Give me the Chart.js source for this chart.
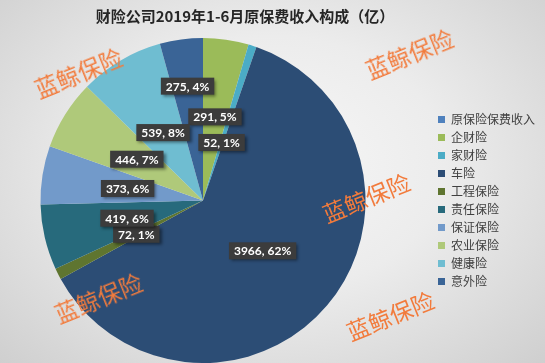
<!DOCTYPE html>
<html>
<head>
<meta charset="utf-8">
<script src="https://cdn.jsdelivr.net/npm/chart.js@4"></script>
<style>
  html, body { margin: 0; padding: 0; }
  body {
    width: 545px; height: 363px; overflow: hidden; position: relative;
    background: radial-gradient(ellipse at 50% 45%, #f7f7f7 0%, #ececec 45%, #cfcfcf 100%);
  }
  /* canvas pushed a bit left so the pie sits where Excel put it */
  #wrap { position: absolute; left: -26px; top: 0; width: 571px; height: 363px; }
  .wm {
    position: absolute; color: #f27b3c; font-family: "Noto Sans CJK SC", sans-serif;
    font-size: 23px; white-space: nowrap; transform: rotate(-22deg); transform-origin: center;
    pointer-events: none;
  }
</style>
</head>
<body>
<div id="wrap"><canvas id="pieChart"></canvas></div>
<div class="wm" style="left:32px;top:55px;">蓝鲸保险</div>
<div class="wm" style="left:363px;top:36px;">蓝鲸保险</div>
<div class="wm" style="left:320px;top:180px;">蓝鲸保险</div>
<div class="wm" style="left:52px;top:280px;">蓝鲸保险</div>
<div class="wm" style="left:344px;top:298px;">蓝鲸保险</div>
<script>
var titleText = '财险公司2019年1-6月原保费收入构成（亿）';
var categories = ['原保险保费收入', '企财险', '家财险', '车险', '工程保险', '责任保险', '保证保险', '农业保险', '健康险', '意外险'];
var premiums = [0, 291, 52, 3966, 72, 419, 373, 446, 539, 275];
var percents = [null, 5, 1, 62, 1, 6, 6, 7, 8, 4];
var sliceColors = ['#4F81BD', '#9BBB59', '#4BACC6', '#2C4D75', '#5F7530', '#276A7C', '#729ACA', '#AFC97A', '#6FBDD1', '#3A6496'];

// label distance from centre, as a fraction of the radius
var labelRadius = [0.48, 0.52, 0.375, 0.48, 0.46, 0.48, 0.47, 0.48, 0.485, 0.71];

var titlePlugin = {
    id: 'titlePlugin',
    afterDraw: function (chart) {
        var c = chart.ctx;
        c.save();
        c.font = 'bold 15px "Noto Sans CJK SC", sans-serif';
        c.fillStyle = '#262626';
        c.textAlign = 'center';
        c.textBaseline = 'middle';
        c.fillText(titleText, 271, 16);
        c.restore();
    }
};

var boxLabels = {
    id: 'boxLabels',
    afterDatasetsDraw: function (chart) {
        var c = chart.ctx;
        var meta = chart.getDatasetMeta(0);
        c.save();
        c.font = 'bold 12px Lato, "Open Sans", sans-serif';
        c.textAlign = 'center';
        c.textBaseline = 'middle';
        meta.data.forEach(function (arc, i) {
            var v = premiums[i];
            if (!v) return;
            var p = arc.getProps(['x', 'y', 'startAngle', 'endAngle', 'outerRadius']);
            var a = (p.startAngle + p.endAngle) / 2;
            var r = p.outerRadius * labelRadius[i];
            var x = p.x + Math.cos(a) * r;
            var y = p.y + Math.sin(a) * r;
            var txt = v + ', ' + percents[i] + '%';
            var w = c.measureText(txt).width + 10;
            var h = 17;
            c.shadowColor = 'rgba(0,0,0,0.45)';
            c.shadowBlur = 3;
            c.shadowOffsetX = 2;
            c.shadowOffsetY = 2;
            c.fillStyle = '#3c3c3c';
            c.fillRect(x - w / 2, y - h / 2, w, h);
            c.shadowColor = 'transparent';
            c.fillStyle = '#ffffff';
            c.fillText(txt, x, y + 0.5);
        });
        c.restore();
    }
};

var ctx = document.getElementById('pieChart').getContext('2d');
var myChart = new Chart(ctx, {
    type: 'pie',
    data: {
        labels: categories,
        datasets: [{
            data: premiums,
            backgroundColor: sliceColors,
            borderWidth: 0
        }]
    },
    options: {
        responsive: true,
        maintainAspectRatio: false,
        animation: false,
        layout: { padding: { top: 38, left: 0, right: 0, bottom: 0 } },
        plugins: {
            legend: {
                position: 'right',
                labels: {
                    boxWidth: 7,
                    boxHeight: 7,
                    padding: 6,
                    color: '#404040',
                    font: { size: 12, family: '"Noto Sans CJK SC", sans-serif' }
                }
            },
            tooltip: { enabled: false }
        }
    },
    plugins: [titlePlugin, boxLabels]
});
</script>
</body>
</html>
